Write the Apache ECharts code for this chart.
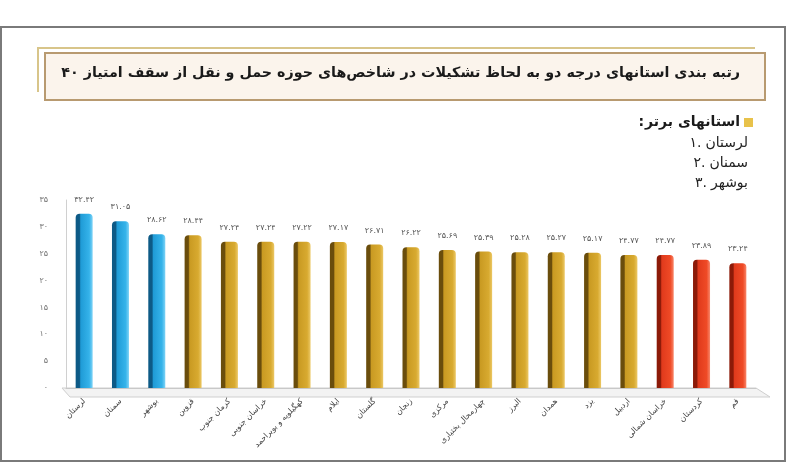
<!DOCTYPE html>
<html>
<head>
<meta charset="utf-8">
<script src="https://cdn.jsdelivr.net/npm/echarts@6/dist/echarts.min.js"></script>
<style>
html,body{margin:0;padding:0;background:#fff;}
#c{width:792px;height:467px;}
</style>
</head>
<body>
<div id="c"></div>
<script>
const titleText = 'رتبه بندی استانهای درجه دو به لحاظ تشکیلات در شاخص‌های حوزه حمل و نقل از سقف امتیاز ۴۰';
const legendHeader = 'استانهای برتر';
const legendRanks = ['۱.', '۲.', '۳.'];
const legendNames = ['لرستان', 'سمنان', 'بوشهر'];

const provinces = ['لرستان','سمنان','بوشهر','قزوین','کرمان جنوب','خراسان جنوبی','کهگیلویه و بویراحمد','ایلام','گلستان','زنجان','مرکزی','چهارمحال بختیاری','البرز','همدان','یزد','اردبیل','خراسان شمالی','کردستان','قم'];
const scores = [32.42,31.05,28.62,28.44,27.24,27.24,27.22,27.17,26.71,26.22,25.69,25.39,25.28,25.27,25.17,24.77,24.77,23.89,23.24];
const groups = ['top','top','top','mid','mid','mid','mid','mid','mid','mid','mid','mid','mid','mid','mid','mid','low','low','low'];
const yTicks = [0,5,10,15,20,25,30,35];

const fa = s => String(s).replace(/\d/g, d => '۰۱۲۳۴۵۶۷۸۹'[d]);
const FONT = '"DejaVu Sans", sans-serif';
const F14 = '14px "DejaVu Sans", sans-serif';
const F14B = 'bold 14px "DejaVu Sans", sans-serif';

const mctx = document.createElement('canvas').getContext('2d');
function tw(text, font){ mctx.font = font; return mctx.measureText(text).width; }

const palette = {
  top: ['#0d5a86', '#1f9bd6', '#35b3ea', '#7fd3f6'],
  mid: ['#6a4d0c', '#c99a22', '#d8aa30', '#ecc866'],
  low: ['#8c1a08', '#e03a1c', '#ef4a26', '#f8866a']
};
function grad(g){
  const p = palette[g];
  return {type:'linear',x:0,y:0,x2:1,y2:0,colorStops:[
    {offset:0,color:p[0]},{offset:0.22,color:p[0]},{offset:0.3,color:p[1]},
    {offset:0.8,color:p[2]},{offset:1,color:p[3]}]};
}

const LX = 748;
const legendLines = [];
legendNames.forEach((nm,i)=>{
  const y = 143 + i*20;
  legendLines.push({type:'text',x:LX,y:y,style:{text:nm,font:F14,fill:'#222',align:'right',verticalAlign:'middle'}});
  legendLines.push({type:'text',x:LX - tw(nm,F14) - 4,y:y,style:{text:legendRanks[i],font:F14,fill:'#222',align:'right',verticalAlign:'middle'}});
});
const HX = 740, HY = 122;
const headerEls = [
  {type:'text',x:HX,y:HY,style:{text:legendHeader,font:F14B,fill:'#1a1a1a',align:'right',verticalAlign:'middle'}},
  {type:'text',x:HX - tw(legendHeader,F14B) - 1,y:HY,style:{text:':',font:F14B,fill:'#1a1a1a',align:'right',verticalAlign:'middle'}}
];

const chart = echarts.init(document.getElementById('c'));
chart.setOption({
  backgroundColor:'#fff',
  animation:false,
  grid:{left:66,right:36,top:200,bottom:79},
  xAxis:{
    type:'category',
    data:provinces,
    axisTick:{show:false},
    axisLine:{show:true,lineStyle:{color:'#c8c8c8',width:1}},
    axisLabel:{interval:0,rotate:45,fontSize:8,color:'#444',fontFamily:FONT,margin:12}
  },
  yAxis:{
    type:'value',min:yTicks[0],max:yTicks[yTicks.length-1],interval:yTicks[1]-yTicks[0],
    axisLine:{show:true,lineStyle:{color:'#d0d0d0'}},
    axisTick:{show:false},
    splitLine:{show:false},
    axisLabel:{fontSize:8,color:'#777',fontFamily:FONT,margin:18,formatter:v=>fa(v)}
  },
  series:[{
    type:'bar',
    barWidth:17,
    data:scores.map((v,i)=>({value:v,itemStyle:{color:grad(groups[i]),borderRadius:[4,4,0,0]}})),
    label:{show:true,position:'top',distance:10,fontSize:8,color:'#555',fontFamily:FONT,
      formatter:p=>fa(p.value.toFixed(2))}
  }],
  graphic:[
    {type:'rect',shape:{x:1,y:27,width:784,height:434},style:{fill:'none',stroke:'#7a7a7a',lineWidth:2},z:-1},
    {type:'polyline',shape:{points:[[38,92],[38,48],[755,48]]},style:{fill:'none',stroke:'#d8c58a',lineWidth:2}},
    {type:'rect',shape:{x:45,y:53,width:720,height:47},style:{fill:'#fbf4ec',stroke:'#b89a70',lineWidth:2}},
    {type:'text',right:52,top:66,style:{text:titleText,font:'bold 14.3px "DejaVu Sans", sans-serif',fill:'#1a1a1a'}},
    {type:'rect',shape:{x:744,y:118,width:9,height:9},style:{fill:'#e8c24a'}},
    ...headerEls,
    ...legendLines,
    {type:'polygon',shape:{points:[[62,388],[756,388],[770,397],[70,397]]},style:{fill:'#f3f3f3',stroke:'#cfcfcf',lineWidth:1},z:-1}
  ]
});
</script>
</body>
</html>
